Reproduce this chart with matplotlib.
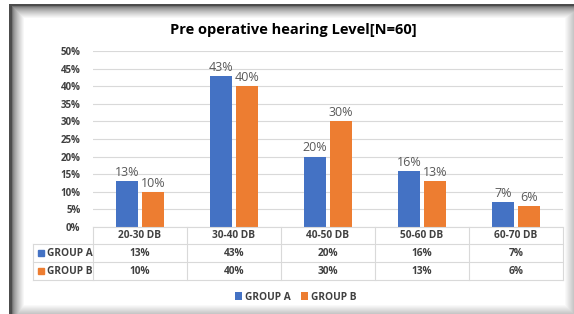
import numpy as np
import matplotlib.pyplot as plt
from matplotlib.patches import Rectangle

categories = ['20-30 DB', '30-40 DB', '40-50 DB', '50-60 DB', '60-70 DB']
group_a = [13, 43, 20, 16, 7]
group_b = [10, 40, 30, 13, 6]
series_names = ['GROUP A', 'GROUP B']
yticks = [0, 5, 10, 15, 20, 25, 30, 35, 40, 45, 50]

BLUE = '#4472C4'
ORANGE = '#ED7D31'
GRID = '#D9D9D9'
TXT = '#404040'
W, H = 574, 314

plt.rcParams['font.family'] = ['Open Sans', 'DejaVu Sans']

fig = plt.figure(figsize=(W / 100, H / 100), dpi=100)

# frame with shadow, drawn as a background image
bg = np.ones((H, W))
# soft shadow on right and bottom, darker toward the edge
for i in range(10):
    v = 1.0 - 0.22 * (i / 9)
    bg[:, W - 10 + i] = np.minimum(bg[:, W - 10 + i], v)
    bg[H - 10 + i, :] = np.minimum(bg[H - 10 + i, :], v)
# inner shadow on left and top
for i in range(13):
    v = 0.45 + 0.55 * (i / 12) ** 0.7
    bg[5 + i:, 12 + i] = np.minimum(bg[5 + i:, 12 + i], v)
    bg[6 + i, 12 + i:] = np.minimum(bg[6 + i, 12 + i:], v)
bg[:4, :] = 1.0
bg[:, :9] = 1.0
bg[4:6, 9:] = 0.3
bg[4:, 9:12] = 0.3
bax = fig.add_axes([0, 0, 1, 1])
bax.imshow(bg, cmap='gray', vmin=0, vmax=1, aspect='auto', interpolation='nearest')
bax.axis('off')


def fx(px):
    return px / W


def fy(py):
    return 1 - py / H


left, right, top, bottom = 93, 563, 51, 227
ax = fig.add_axes([fx(left), fy(bottom), (right - left) / W, (bottom - top) / H])
ax.patch.set_alpha(0)

x = np.arange(len(categories))
bw = 0.225
off = 0.138
ax.bar(x - off, [v / 100 for v in group_a], bw, color=BLUE, label=series_names[0], zorder=3)
ax.bar(x + off, [v / 100 for v in group_b], bw, color=ORANGE, label=series_names[1], zorder=3)
for xi, va, vb in zip(x, group_a, group_b):
    ax.text(xi - off, va / 100 + 0.006, f'{va}%', ha='center', va='bottom', fontsize=9, color='#595959')
    ax.text(xi + off, vb / 100 + 0.006, f'{vb}%', ha='center', va='bottom', fontsize=9, color='#595959')

ax.set_xlim(-0.5, len(categories) - 0.5)
ax.set_ylim(0, 0.5)
ax.set_yticks([t / 100 for t in yticks])
ax.set_yticklabels([f'{t}%' for t in yticks], fontsize=7, fontweight='bold', color=TXT)
ax.tick_params(axis='y', length=0, pad=9)
ax.set_xticks([])
ax.grid(axis='y', color=GRID, linewidth=0.8, zorder=0)
for s in ax.spines.values():
    s.set_visible(False)

fig.text(fx(293), fy(30), 'Pre operative hearing Level[N=60]', fontsize=10.5,
         fontweight='bold', color='black', ha='center', va='center')

# data table below the plot
rows = [244, 262, 280]
line_kw = dict(color=GRID, linewidth=0.8, transform=fig.transFigure)
fig.add_artist(plt.Line2D([fx(left), fx(right)], [fy(bottom), fy(bottom)], **line_kw))
for r in rows:
    fig.add_artist(plt.Line2D([fx(33), fx(right)], [fy(r), fy(r)], **line_kw))
col_w = (right - left) / len(categories)
for i in range(len(categories) + 1):
    cx = left + i * col_w
    fig.add_artist(plt.Line2D([fx(cx), fx(cx)], [fy(bottom), fy(rows[-1])], **line_kw))
fig.add_artist(plt.Line2D([fx(33), fx(33)], [fy(rows[0]), fy(rows[-1])], **line_kw))

tkw = dict(ha='center', va='center', fontsize=7.3, fontweight='bold', color=TXT)
for i, cat in enumerate(categories):
    cx = left + (i + 0.5) * col_w
    fig.text(fx(cx), fy((bottom + rows[0]) / 2), cat, **tkw)
    fig.text(fx(cx), fy((rows[0] + rows[1]) / 2), f'{group_a[i]}%', **tkw)
    fig.text(fx(cx), fy((rows[1] + rows[2]) / 2), f'{group_b[i]}%', **tkw)
for j, (name, col) in enumerate(zip(series_names, [BLUE, ORANGE])):
    cy = (rows[j] + rows[j + 1]) / 2
    fig.add_artist(Rectangle((fx(38), fy(cy + 3)), 6 / W, 6 / H, color=col,
                             transform=fig.transFigure))
    fig.text(fx(47), fy(cy), name, ha='left', va='center', fontsize=7.3,
             fontweight='bold', color=TXT)

fig.legend(loc='center', bbox_to_anchor=(fx(296), fy(297)), ncol=2, frameon=False,
           handlelength=0.7, handleheight=0.7, handletextpad=0.3,
           columnspacing=1.0, prop={'weight': 'bold', 'size': 7.3}, labelcolor=TXT)

fig.savefig('out.png', dpi=100)
